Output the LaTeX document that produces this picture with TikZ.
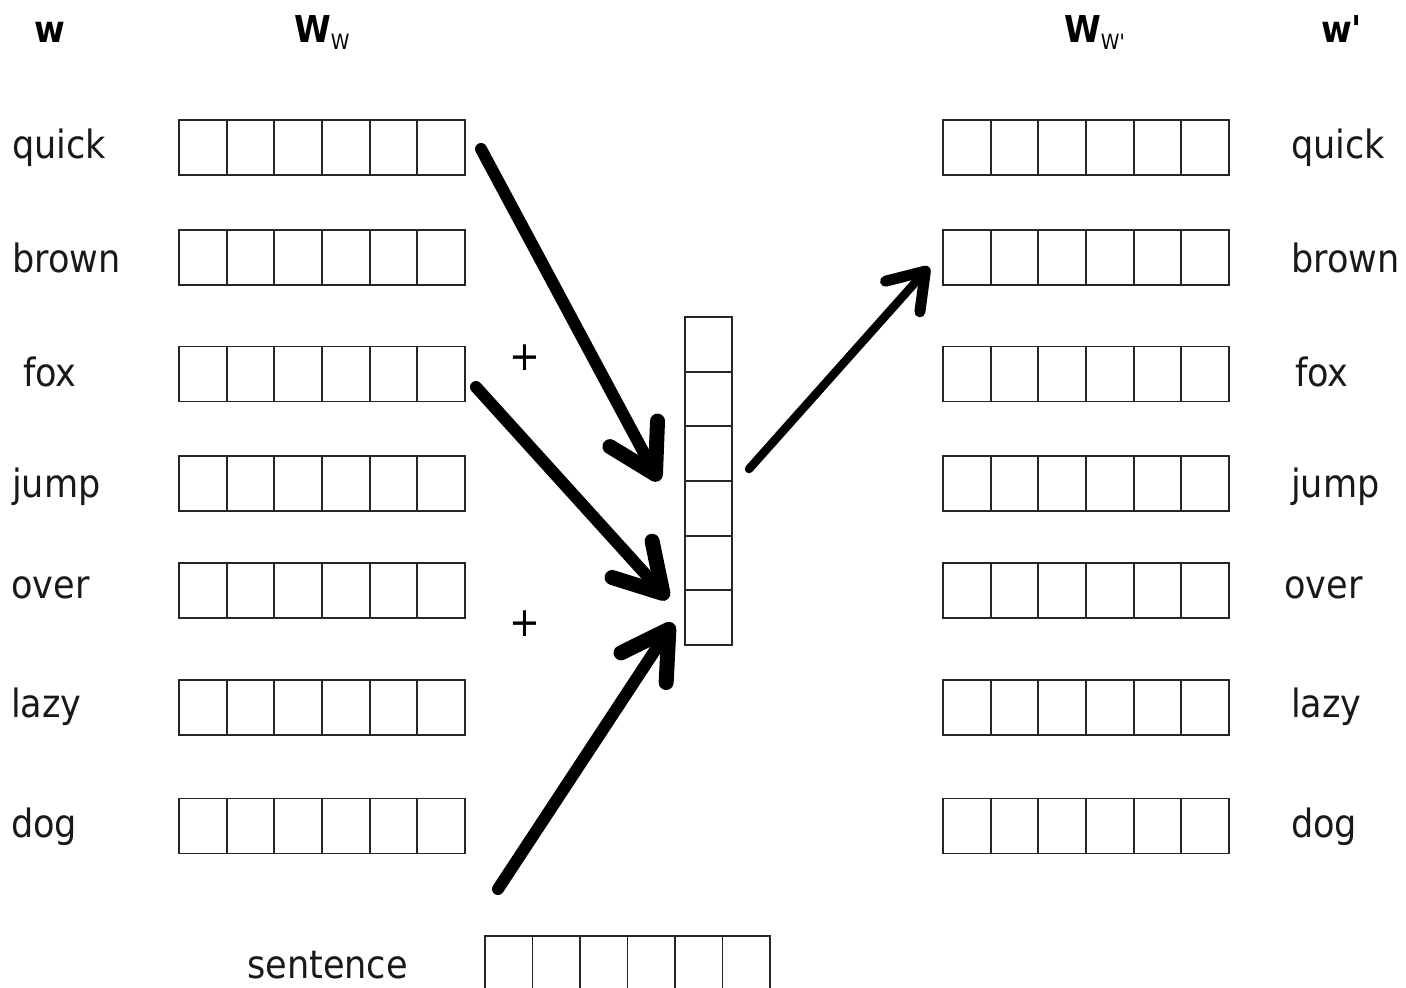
\documentclass[tikz,border=0pt]{standalone}
\usepackage{fontspec}
\setmainfont{DejaVu Sans Condensed}[BoldFont={DejaVu Sans Condensed Bold}]
% family without TeX ligatures, so that ' stays a straight prime
\newfontfamily\rawfont{DejaVu Sans Condensed}[BoldFont={DejaVu Sans Condensed Bold}]
\usetikzlibrary{arrows.meta,calc}
\newcommand\subtxt[1]{\raisebox{-7pt}{\fontsize{21}{24}\selectfont\mdseries #1}}
\newcommand\sq{{\rawfont'}}
\begin{document}
\begin{tikzpicture}[x=1pt,y=-1pt,
  ink/.style={draw=black!85, line width=1.8pt},
  rowvec/.style={ink, minimum width=286pt, minimum height=55pt, inner sep=0pt, outer sep=0pt,
    path picture={\foreach \k in {1,...,5}{
      \draw[ink] ($(path picture bounding box.south west)!\k/6!(path picture bounding box.south east)$)
        -- ($(path picture bounding box.north west)!\k/6!(path picture bounding box.north east)$);}}},
  colvec/.style={ink, minimum width=47pt, minimum height=328pt, inner sep=0pt, outer sep=0pt,
    path picture={\foreach \k in {1,...,5}{
      \draw[ink] ($(path picture bounding box.north west)!\k/6!(path picture bounding box.south west)$)
        -- ($(path picture bounding box.north east)!\k/6!(path picture bounding box.south east)$);}}},
  lab/.style={anchor=base west, inner sep=0pt, text=black!90, font=\fontsize{39}{44}\selectfont},
  hdr/.style={anchor=base west, inner sep=0pt, text=black, font=\fontsize{37}{40}\selectfont\bfseries},
  plus/.style={inner sep=0pt, font=\fontsize{41}{42}\selectfont},
  bigarrow/.style={line width=12pt, line cap=round,
    -{Straight Barb[length=46pt,width=54pt,line width=15pt,round]}},
  thinarrow/.style={line width=8.5pt, line cap=round,
    -{Straight Barb[length=34pt,width=46pt,line width=11pt,round]}}]
\useasboundingbox (0,0) rectangle (1406,988);
\begin{scope}
\clip (0,0) rectangle (1406,988);

% headers
\node[hdr] (hw)  at (34,42)   {w};
\node[hdr] (hWl) at (294,42)  {W\subtxt{W}};
\node[hdr] (hWr) at (1064,42) {W\subtxt{W\sq}};
\node[hdr] (hw2) at (1321,42) {w\sq};

% word embedding rows, input and output side
\foreach \nm/\yc in {quick/147.5, brown/257.5, fox/374, jump/483.5, over/590.5, lazy/707.5, dog/826}{
  \node[rowvec] (L\nm) at (322,\yc) {};
  \node[rowvec] (R\nm) at (1086,\yc) {};
}

% word labels
\node[lab] (tLquick) at (12,158) {quick};
\node[lab] (tLbrown) at (12,272) {brown};
\node[lab] (tLfox)   at (23,386) {fox};
\node[lab] (tLjump)  at (12,497) {jump};
\node[lab] (tLover)  at (11,598) {over};
\node[lab] (tLlazy)  at (11,717) {lazy};
\node[lab] (tLdog)   at (11,837) {dog};

\node[lab] (tRquick) at (1291,158) {quick};
\node[lab] (tRbrown) at (1291,272) {brown};
\node[lab] (tRfox)   at (1295,386) {fox};
\node[lab] (tRjump)  at (1291,497) {jump};
\node[lab] (tRover)  at (1284,598) {over};
\node[lab] (tRlazy)  at (1291,717) {lazy};
\node[lab] (tRdog)   at (1291,837) {dog};

% combined hidden vector and sentence vector
\node[colvec] (vec) at (708.5,481) {};
\node[rowvec, minimum width=285pt] (sent) at (627.5,963.5) {};
\node[lab] (tsent) at (247,978) {sentence};

% plus signs
\node[plus] (p1) at (525,358) {+};
\node[plus] (p2) at (525,624) {+};

% arrows
\coordinate (a1s) at (481,149);
\coordinate (a1e) at (659,481);
\coordinate (a2s) at (476,387);
\coordinate (a2e) at (668,599);
\coordinate (a3s) at (498,889);
\coordinate (a3e) at (673,623);
\coordinate (a4s) at (749,469);
\coordinate (a4e) at (929,267);
\draw[bigarrow] (a1s) -- (a1e);
\draw[bigarrow] (a2s) -- (a2e);
\draw[bigarrow] (a3s) -- (a3e);
\draw[thinarrow] (a4s) -- (a4e);
\end{scope}
\end{tikzpicture}
\end{document}
